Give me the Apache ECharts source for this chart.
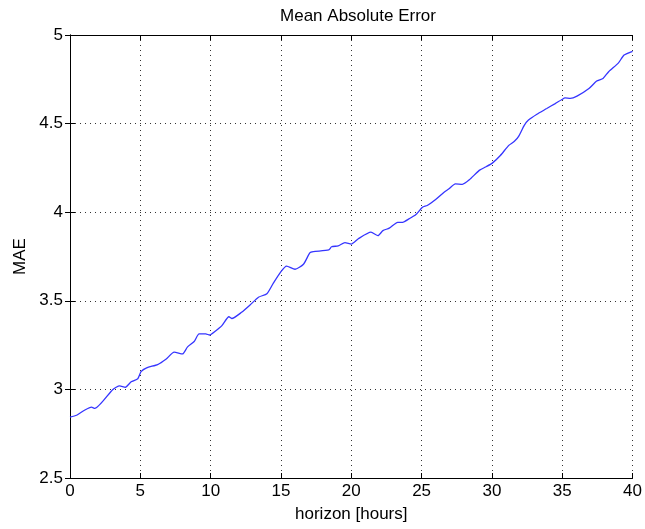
<!DOCTYPE html>
<html>
<head>
<meta charset="utf-8">
<script src="https://cdn.jsdelivr.net/npm/echarts@6/dist/echarts.min.js"></script>
<style>
  html, body { margin: 0; padding: 0; background: #fff; }
  #chart { width: 645px; height: 529px; }
</style>
</head>
<body>
<div id="chart"></div>
<script>
// horizon in hours and the MAE
const horizon = [0, 0.47, 1.06, 1.53, 1.76, 3.05, 3.53, 3.93, 4.35, 4.82, 5.05, 5.45, 6.23, 6.82, 7.41, 8.0, 8.36, 8.83, 9.18, 9.65, 9.93, 10.35, 10.8, 11.3, 11.5, 12.2, 12.8, 13.4, 14.0, 14.46, 15.0, 15.4, 16.0, 16.6, 17.05, 17.3, 18.4, 18.6, 19.07, 19.55, 20.0, 20.5, 21.4, 21.9, 22.25, 22.7, 23.3, 23.65, 24.1, 24.6, 25.06, 25.4, 26.0, 26.6, 26.95, 27.4, 27.9, 28.4, 29.1, 29.55, 30.03, 30.6, 31.2, 31.6, 31.9, 32.3, 32.6, 33.2, 33.9, 34.5, 34.98, 35.2, 35.57, 36.05, 36.9, 37.45, 37.9, 38.3, 39.0, 39.4, 40.0];
const mae = [2.843, 2.854, 2.884, 2.90, 2.893, 3.0, 3.02, 3.012, 3.043, 3.06, 3.10, 3.122, 3.14, 3.17, 3.21, 3.20, 3.24, 3.27, 3.313, 3.313, 3.307, 3.33, 3.36, 3.41, 3.40, 3.435, 3.476, 3.52, 3.54, 3.60, 3.665, 3.696, 3.678, 3.706, 3.77, 3.777, 3.787, 3.805, 3.81, 3.828, 3.82, 3.85, 3.887, 3.868, 3.896, 3.91, 3.943, 3.943, 3.962, 3.987, 4.028, 4.038, 4.072, 4.113, 4.132, 4.16, 4.157, 4.183, 4.236, 4.255, 4.277, 4.32, 4.377, 4.40, 4.428, 4.49, 4.52, 4.553, 4.585, 4.613, 4.636, 4.645, 4.642, 4.655, 4.698, 4.74, 4.755, 4.793, 4.843, 4.887, 4.908];

const xTicks = [0, 5, 10, 15, 20, 25, 30, 35, 40];
const yTicks = [2.5, 3, 3.5, 4, 4.5, 5];

const chart = echarts.init(document.getElementById('chart'), null, { renderer: 'canvas' });

const font = 'Liberation Sans, Arial, sans-serif';
const frame = { show: true, lineStyle: { color: '#000', width: 1 } };
const tick = { show: true, inside: true, length: 5, lineStyle: { color: '#000' } };
const grid = { show: true, lineStyle: { color: '#333', type: [1, 4], width: 1 } };

chart.setOption({
  backgroundColor: '#fff',
  animation: false,
  title: {
    text: 'Mean Absolute Error',
    left: 353, top: 3, textAlign: 'center',
    textStyle: { fontFamily: font, fontSize: 17, fontWeight: 'normal', color: '#000' }
  },
  grid: { left: 70, right: 8, top: 35, bottom: 51 },
  xAxis: [{
    type: 'value', min: xTicks[0], max: xTicks[xTicks.length - 1], interval: 5,
    name: 'horizon [hours]', nameLocation: 'middle', nameGap: 28,
    nameTextStyle: { fontFamily: font, fontSize: 17, color: '#000' },
    axisLine: frame, axisTick: tick,
    axisLabel: { fontFamily: font, fontSize: 17, color: '#000', margin: 5 },
    splitLine: grid
  }, {
    type: 'value', position: 'top', min: xTicks[0], max: xTicks[xTicks.length - 1], interval: 5,
    axisLine: frame, axisTick: tick, axisLabel: { show: false }, splitLine: { show: false }
  }],
  yAxis: [{
    type: 'value', min: yTicks[0], max: yTicks[yTicks.length - 1], interval: 0.5,
    name: 'MAE', nameLocation: 'middle', nameGap: 38, nameRotate: 90,
    nameTextStyle: { fontFamily: font, fontSize: 17, color: '#000' },
    axisLine: frame, axisTick: tick,
    axisLabel: { fontFamily: font, fontSize: 17, color: '#000', margin: 7 },
    splitLine: grid
  }, {
    type: 'value', position: 'right', min: yTicks[0], max: yTicks[yTicks.length - 1], interval: 0.5,
    axisLine: frame, axisTick: tick, axisLabel: { show: false }, splitLine: { show: false }
  }],
  series: [{
    type: 'line',
    data: horizon.map((h, i) => [h, mae[i]]),
    showSymbol: false,
    smooth: 0.2,
    lineStyle: { color: '#3535ff', width: 1.3 }
  }]
});
</script>
</body>
</html>
